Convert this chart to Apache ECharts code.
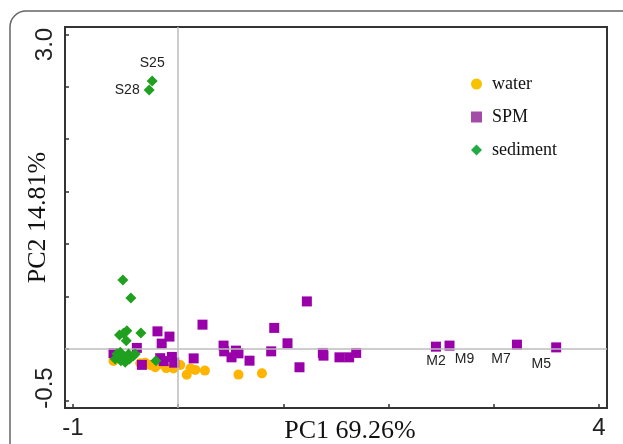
<!DOCTYPE html>
<html>
<head>
<meta charset="utf-8">
<script src="https://cdn.jsdelivr.net/npm/echarts@6/dist/echarts.min.js"></script>
<style>
  html, body { margin: 0; padding: 0; background: #fff; }
  #main { width: 623px; height: 444px; }
</style>
</head>
<body>
<div id="main"></div>
<script>
// PC1 / PC2 scores
var waterPoints = [
  [-0.615, -0.117], [-0.361, -0.140], [-0.314, -0.136], [-0.266, -0.156],
  [-0.219, -0.177], [-0.171, -0.146], [-0.114, -0.186], [-0.045, -0.189],
  [0.019, -0.157], [0.081, -0.250], [0.117, -0.189], [0.162, -0.203],
  [0.254, -0.210], [0.573, -0.248], [0.796, -0.236]
];

var spmPoints = [
  [-0.615, -0.043], [-0.393, 0.007], [-0.345, -0.155], [-0.197, 0.165],
  [-0.157, 0.048], [-0.083, 0.115], [-0.171, -0.091], [-0.138, -0.119],
  [-0.060, -0.079], [-0.038, -0.134], [0.147, -0.093], [0.231, 0.229],
  [0.431, 0.029], [0.437, -0.026], [0.507, -0.083], [0.549, -0.019],
  [0.573, -0.045], [0.678, -0.115], [0.884, -0.026], [0.913, 0.198],
  [1.039, 0.051], [1.153, -0.178], [1.223, 0.451], [1.375, -0.041],
  [1.381, -0.067], [1.533, -0.083], [1.625, -0.083], [1.692, -0.041]
];
var spmNamed = [
  [2.450, 0.019, 'M2'], [2.579, 0.029, 'M9'], [3.220, 0.038, 'M7'], [3.593, 0.012, 'M5']
];

var sedimentPoints = [
  [-0.526, 0.656], [-0.450, 0.484], [-0.488, 0.172], [-0.520, 0.146],
  [-0.558, 0.131], [-0.494, 0.076], [-0.355, 0.150], [-0.583, -0.051],
  [-0.551, -0.035], [-0.520, -0.083], [-0.472, -0.051], [-0.425, -0.067],
  [-0.504, -0.131], [-0.599, -0.098], [-0.545, -0.115], [-0.463, -0.098],
  [-0.409, -0.051], [-0.212, -0.115], [-0.570, -0.076]
];
var sedimentNamed = [
  [-0.247, 2.557, 'S25'], [-0.276, 2.471, 'S28']
];

var xTicks = [-1, 0, 1, 2, 3, 4];
var xLabels = [-1, 4];
var yTicks = [-0.5, 0, 0.5, 1.0, 1.5, 2.0, 2.5, 3.0];
var yLabels = [-0.5, 3.0];

// where each point label sits relative to its marker
var labelPlace = {
  S25: { position: 'top', distance: 5, offset: [0, 0] },
  S28: { position: 'left', distance: 4, offset: [0, 0] },
  M2: { position: 'bottom', distance: 2, offset: [0, 0] },
  M9: { position: 'bottom', distance: 2, offset: [15, 0] },
  M7: { position: 'bottom', distance: 2, offset: [-16, 0] },
  M5: { position: 'bottom', distance: 2, offset: [-15, 3] }
};

function named(list) {
  return list.map(function (p) {
    var pl = labelPlace[p[2]];
    return {
      name: p[2],
      value: [p[0], p[1]],
      label: {
        show: true,
        formatter: '{b}',
        position: pl.position,
        distance: pl.distance,
        offset: pl.offset,
        color: '#222',
        fontSize: 14,
        fontFamily: 'Liberation Sans'
      }
    };
  });
}

var myChart = echarts.init(document.getElementById('main'));

option = {
  backgroundColor: '#fff',
  animation: false,
  graphic: [{
    type: 'rect',
    shape: { x: 10, y: 11, width: 700, height: 600, r: 16 },
    style: { fill: 'none', stroke: '#666', lineWidth: 1.5 },
    silent: true
  }],
  grid: {
    left: 65, top: 27, right: 16, bottom: 36,
    outerBoundsMode: 'none',
    containLabel: false,
    show: true,
    borderColor: '#333',
    borderWidth: 2
  },
  legend: {
    orient: 'vertical',
    left: 466,
    top: 70,
    itemWidth: 11,
    itemHeight: 11,
    itemGap: 15,
    textStyle: {
      fontFamily: 'Liberation Serif',
      fontSize: 18,
      color: '#111',
      padding: [0, 0, 0, 5]
    },
    data: [
      { name: 'water', icon: 'circle', itemStyle: { color: '#F7C200' } },
      { name: 'SPM', icon: 'rect', itemStyle: { color: '#A24CA8' } },
      { name: 'sediment', icon: 'diamond', itemStyle: { color: '#22AA44' } }
    ]
  },
  xAxis: {
    type: 'value',
    min: -1.076,
    max: 4.076,
    name: 'PC1 69.26%',
    nameLocation: 'middle',
    nameGap: 10,
    nameMoveOverlap: false,
    nameTextStyle: {
      fontFamily: 'Liberation Serif',
      fontSize: 26,
      color: '#111',
      verticalAlign: 'top',
      padding: [0, 0, 0, 28]
    },
    axisLine: { onZero: false, lineStyle: { color: '#333', width: 2 } },
    axisTick: { inside: true, length: 4, customValues: xTicks, lineStyle: { color: '#333', width: 1.5 } },
    axisLabel: {
      customValues: xLabels,
      margin: 8,
      fontFamily: 'Liberation Sans',
      fontSize: 24,
      color: '#222'
    },
    splitLine: { show: false }
  },
  yAxis: {
    type: 'value',
    min: -0.567,
    max: 3.072,
    name: 'PC2 14.81%',
    nameLocation: 'middle',
    nameGap: 14,
    nameMoveOverlap: false,
    nameTextStyle: {
      fontFamily: 'Liberation Serif',
      fontSize: 26,
      color: '#111'
    },
    axisLine: { onZero: false, lineStyle: { color: '#333', width: 2 } },
    axisTick: { inside: true, length: 4, customValues: yTicks, lineStyle: { color: '#333', width: 1.5 } },
    axisLabel: {
      customValues: yLabels,
      rotate: 90,
      margin: 8,
      formatter: function (v) {
        return v > 1 ? '{a|' + v.toFixed(1) + '}' : '{b|' + v.toFixed(1) + '}';
      },
      rich: {
        a: { fontFamily: 'Liberation Sans', fontSize: 24, color: '#222', padding: [0, 20, 0, 0] },
        b: { fontFamily: 'Liberation Sans', fontSize: 24, color: '#222', padding: [0, 0, 0, 26] }
      }
    },
    splitLine: { show: false }
  },
  series: [
    {
      name: 'zero',
      type: 'scatter',
      data: [],
      z: 1,
      silent: true,
      markLine: {
        silent: true,
        symbol: 'none',
        label: { show: false },
        lineStyle: { color: '#bdbdbd', type: 'solid', width: 1.5 },
        data: [{ xAxis: 0 }, { yAxis: 0 }]
      }
    },
    {
      name: 'water',
      type: 'scatter',
      symbol: 'circle',
      symbolSize: 10,
      z: 3,
      itemStyle: { color: '#FFB400', opacity: 1 },
      data: waterPoints
    },
    {
      name: 'SPM',
      type: 'scatter',
      symbol: 'rect',
      symbolSize: 10,
      z: 4,
      itemStyle: { color: '#9A00AA', opacity: 1 },
      data: spmPoints.concat(named(spmNamed))
    },
    {
      name: 'sediment',
      type: 'scatter',
      symbol: 'diamond',
      symbolSize: 11,
      z: 5,
      itemStyle: { color: '#1FA01F', opacity: 1 },
      data: sedimentPoints.concat(named(sedimentNamed))
    }
  ]
};

myChart.setOption(option);
</script>
</body>
</html>
